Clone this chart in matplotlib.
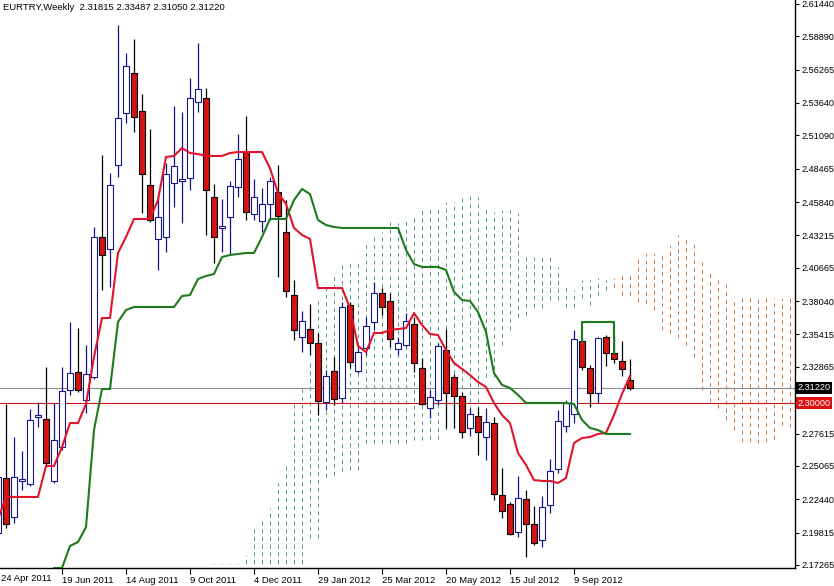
import numpy as np
import pandas as pd
import matplotlib
matplotlib.use('Agg')
import matplotlib.pyplot as plt
from matplotlib.transforms import blended_transform_factory

plt.rcParams['font.family'] = ['Liberation Sans', 'DejaVu Sans']

# weekly EURTRY candles, first bar = week of 24 Apr 2011
symbol = 'EURTRY,Weekly'
start_week = '2011-04-24'

opens = [2.1978, 2.2411, 2.2104, 2.2388, 2.2364, 2.2892, 2.2876, 2.2388, 2.2655, 2.3104,
         2.3246, 2.3025, 2.3207, 2.4309, 2.4214, 2.4876, 2.5285, 2.5600, 2.5301, 2.4718,
         2.4293, 2.4309, 2.4734, 2.4750, 2.4773, 2.5372, 2.5403, 2.4624, 2.4380, 2.4466,
         2.4703, 2.4986, 2.4490, 2.4435, 2.4569, 2.4663, 2.4348, 2.3852, 2.3521, 2.3584,
         2.3474, 2.3010, 2.3254, 2.3041, 2.3773, 2.3254, 2.3435, 2.3640, 2.3868, 2.3805,
         2.3427, 2.3459, 2.3624, 2.3277, 2.2962, 2.3025, 2.3419, 2.3207, 2.3057, 2.2805,
         2.2899, 2.2734, 2.2844, 2.2277, 2.2207, 2.1986, 2.2246, 2.2049, 2.1923, 2.2199,
         2.2482, 2.2821, 2.2915, 2.3490, 2.3277, 2.3081, 2.3521, 2.3395, 2.3332, 2.31815]
highs = [2.2450, 2.2994, 2.2734, 2.2624, 2.2955, 2.3010, 2.3285, 2.3002, 2.3285, 2.3640,
         2.3592, 2.3459, 2.4388, 2.4955, 2.4813, 2.5978, 2.5758, 2.5868, 2.5435, 2.5159,
         2.4624, 2.4892, 2.5340, 2.5293, 2.5561, 2.5836, 2.5482, 2.4726, 2.4608, 2.4750,
         2.5120, 2.5262, 2.4766, 2.4695, 2.4781, 2.4876, 2.4600, 2.3970, 2.3726, 2.3781,
         2.3553, 2.3262, 2.3364, 2.3797, 2.3797, 2.3459, 2.3679, 2.3955, 2.3907, 2.3868,
         2.3521, 2.3710, 2.3679, 2.3356, 2.3104, 2.3474, 2.3584, 2.3230, 2.3088, 2.2962,
         2.2970, 2.2962, 2.2892, 2.2490, 2.2222, 2.2427, 2.2317, 2.2191, 2.2270, 2.2561,
         2.2947, 2.3025, 2.3577, 2.3514, 2.3301, 2.3521, 2.3537, 2.3537, 2.3490, 2.33487]
lows = [2.1950, 2.2018, 2.2057, 2.2317, 2.2348, 2.2813, 2.2514, 2.2372, 2.2632, 2.3065,
        2.3088, 2.2923, 2.3191, 2.3892, 2.3915, 2.4781, 2.5207, 2.5136, 2.4498, 2.4427,
        2.4049, 2.4191, 2.4545, 2.4419, 2.4679, 2.5293, 2.4325, 2.4104, 2.4191, 2.4167,
        2.4624, 2.4443, 2.4443, 2.4348, 2.4443, 2.3994, 2.3836, 2.3498, 2.3403, 2.3380,
        2.2907, 2.2947, 2.2986, 2.3002, 2.3277, 2.3238, 2.3380, 2.3577, 2.3695, 2.3443,
        2.3380, 2.3443, 2.3246, 2.2986, 2.2884, 2.2986, 2.2805, 2.2805, 2.2726, 2.2742,
        2.2592, 2.2553, 2.2238, 2.2096, 2.1962, 2.1947, 2.1789, 2.1884, 2.1868, 2.2136,
        2.2451, 2.2773, 2.2844, 2.3262, 2.2970, 2.3002, 2.3293, 2.3317, 2.3214, 2.31050]
closes = [2.2419, 2.2049, 2.2419, 2.2403, 2.2868, 2.2907, 2.2529, 2.2710, 2.3096, 2.3238,
          2.3104, 2.3230, 2.4309, 2.4167, 2.4718, 2.5246, 2.5655, 2.5254, 2.4805, 2.4443,
          2.4466, 2.4805, 2.4868, 2.4766, 2.5403, 2.5474, 2.4679, 2.4309, 2.4396, 2.4710,
          2.4923, 2.4506, 2.4624, 2.4569, 2.4750, 2.4474, 2.3884, 2.3577, 2.3647, 2.3474,
          2.3018, 2.3214, 2.3033, 2.3758, 2.3325, 2.3403, 2.3608, 2.3868, 2.3758, 2.3506,
          2.3474, 2.3647, 2.3317, 2.2994, 2.3049, 2.3451, 2.3081, 2.3057, 2.2773, 2.2915,
          2.2773, 2.2852, 2.2285, 2.2151, 2.1970, 2.2254, 2.2049, 2.1899, 2.2183, 2.2466,
          2.2860, 2.3002, 2.3506, 2.3285, 2.3081, 2.3514, 2.3395, 2.3348, 2.3270, 2.31220]

# Ichimoku lines
tenkan = [2.2088, 2.2262, 2.2262, 2.2262, 2.2262, 2.2262, 2.2506, 2.2506, 2.2655, 2.2844,
          2.2844, 2.2994, 2.3364, 2.3671, 2.3671, 2.4183, 2.4309, 2.4451, 2.4451, 2.4451,
          2.4600, 2.4939, 2.4947, 2.5010, 2.4970, 2.4962, 2.4947, 2.4947, 2.4947, 2.4970,
          2.4978, 2.4978, 2.4978, 2.4978, 2.4850, 2.4655, 2.4570, 2.4380, 2.4325, 2.4293,
          2.3907, 2.3907, 2.3907, 2.3907, 2.3750, 2.3451, 2.3403, 2.3553, 2.3553, 2.3577,
          2.3584, 2.3592, 2.3710, 2.3616, 2.3545, 2.3537, 2.3419, 2.3317, 2.3270, 2.3222,
          2.3167, 2.3128, 2.3002, 2.2907, 2.2844, 2.2608, 2.2514, 2.2395, 2.2388, 2.2388,
          2.2372, 2.2411, 2.2687, 2.2726, 2.2734, 2.2758, 2.2766, 2.2907, 2.3073, 2.3214]

kijun_start = 6
kijun = [2.1500, 2.1703, 2.1703, 2.1876, 2.1907, 2.2025, 2.2789, 2.3112, 2.3112, 2.3640,
         2.3734, 2.3758, 2.3758, 2.3758, 2.3758, 2.3758, 2.3758, 2.3844, 2.3852, 2.3978,
         2.4002, 2.4018, 2.4151, 2.4167, 2.4175, 2.4183, 2.4183, 2.4309, 2.4451, 2.4451,
         2.4451, 2.4600, 2.4687, 2.4647, 2.4443, 2.4403, 2.4388, 2.4380, 2.4380, 2.4380,
         2.4380, 2.4380, 2.4380, 2.4380, 2.4380, 2.4207, 2.4096, 2.4073, 2.4073, 2.4073,
         2.4049, 2.3876, 2.3813, 2.3805, 2.3718, 2.3561, 2.3238, 2.3144, 2.3120, 2.3065,
         2.3002, 2.3002, 2.3002, 2.3002, 2.3002, 2.3002, 2.2994, 2.2868, 2.2805, 2.2789,
         2.2758, 2.2758, 2.2758, 2.2758]

# cloud, green part (bars 27..76) and orange part (bars 77..99)
cloud_up_start = 27
cloud_up_top = [2.1742, 2.1742, 2.1742, 2.1742, 2.1805, 2.2033, 2.2104, 2.2175, 2.2372, 2.2514,
                2.3025, 2.3112, 2.3340, 2.3836, 2.3955, 2.4025, 2.4104, 2.4096, 2.4096, 2.4262,
                2.4325, 2.4348, 2.4427, 2.4419, 2.4466, 2.4482, 2.4522, 2.4545, 2.4545, 2.4584,
                2.4584, 2.4640, 2.4655, 2.4624, 2.4537, 2.4506, 2.4522, 2.4522, 2.4498, 2.4183,
                2.4151, 2.4151, 2.4151, 2.4073, 2.3915, 2.3892, 2.3970, 2.3970, 2.3986, 2.3970]
cloud_up_bot = [2.1500, 2.1500, 2.1500, 2.1500, 2.1500, 2.1500, 2.1500, 2.1500, 2.1500, 2.1500,
                2.1500, 2.1500, 2.1939, 2.1939, 2.2419, 2.2435, 2.2466, 2.2474, 2.2474, 2.2687,
                2.2687, 2.2687, 2.2687, 2.2687, 2.2687, 2.2710, 2.2710, 2.2718, 2.2718, 2.2789,
                2.2805, 2.2931, 2.2947, 2.2947, 2.3207, 2.3207, 2.3459, 2.3577, 2.3679, 2.3695,
                2.3758, 2.3750, 2.3813, 2.3813, 2.3758, 2.3758, 2.3829, 2.3773, 2.3852, 2.3892]
cloud_dn_start = 77
cloud_dn_top = [2.3986, 2.4010, 2.4025, 2.4151, 2.4183, 2.4183, 2.4183, 2.4246, 2.4325, 2.4285,
                2.4262, 2.4112, 2.4033, 2.3970, 2.3955, 2.3836, 2.3836, 2.3829, 2.3829, 2.3829,
                2.3829, 2.3829, 2.3829]
cloud_dn_bot = [2.3915, 2.3852, 2.3852, 2.3797, 2.3789, 2.3734, 2.3577, 2.3553, 2.3514, 2.3459,
                2.3364, 2.3104, 2.3010, 2.2962, 2.2868, 2.2789, 2.2695, 2.2695, 2.2687, 2.2695,
                2.2718, 2.2829, 2.2813]

bracket_idx = [73, 73, 77, 77]
bracket_val = [2.3482, 2.3640, 2.3640, 2.3395]

price_ticks = [2.61440, 2.58890, 2.56265, 2.53640, 2.51090, 2.48465, 2.45840, 2.43215,
               2.40665, 2.38040, 2.35415, 2.32865, 2.27615, 2.25065, 2.22440, 2.19815, 2.17265]
last_price = 2.31220
level_price = 2.30000

navy = '#14148c'
bear = '#d41414'

fig = plt.figure(figsize=(8.34, 5.86), dpi=100)
ax = fig.add_axes([0, 18 / 586, 795 / 834, 568 / 586])

n = len(opens)
x = np.arange(n)
o, h, l, c = (np.array(v) for v in (opens, highs, lows, closes))
up = c >= o
dn = ~up

# cloud as dotted vertical lines
xu = np.arange(cloud_up_start, cloud_up_start + len(cloud_up_top))
ax.vlines(xu, cloud_up_bot, cloud_up_top, colors='#4a9a7e', linewidth=0.7,
          linestyles=(0, (4, 4)), zorder=1)
xd = np.arange(cloud_dn_start, cloud_dn_start + len(cloud_dn_top))
ax.vlines(xd, cloud_dn_bot, cloud_dn_top, colors='#d4763a', linewidth=0.7,
          linestyles=(0, (4, 4)), zorder=1)

ax.axhline(last_price, color='#8a8a8a', linewidth=0.8, zorder=2)
ax.axhline(level_price, color='#c81414', linewidth=0.8, zorder=2)

# candles
w = 0.68
ax.vlines(x[up], l[up], h[up], color=navy, linewidth=0.9, zorder=3)
ax.vlines(x[dn], l[dn], h[dn], color='black', linewidth=0.9, zorder=3)
ax.bar(x[up], np.maximum(c[up] - o[up], 0.0004), bottom=o[up], width=w,
       facecolor='white', edgecolor=navy, linewidth=0.8, zorder=4)
ax.bar(x[dn], o[dn] - c[dn], bottom=c[dn], width=w,
       facecolor=bear, edgecolor='black', linewidth=0.8, zorder=4)

# tenkan / kijun
ax.plot(x, tenkan, color='#e0142c', linewidth=1.5, zorder=5)
xk = np.arange(kijun_start, kijun_start + len(kijun))
ax.plot(xk, kijun, color='#1d7a1d', linewidth=1.5, zorder=5)
ax.plot(bracket_idx, bracket_val, color='#1d7a1d', linewidth=1.5, zorder=5)

ax.set_xlim(0.25, 99.625)
ax.set_ylim(2.17026, 2.6175)

for s in ('top', 'left'):
    ax.spines[s].set_visible(False)
for s in ('right', 'bottom'):
    ax.spines[s].set_color('black')
    ax.spines[s].set_linewidth(1.0)

# price axis on the right
ax.yaxis.tick_right()
ax.set_yticks(price_ticks)
ax.set_yticklabels([f'{v:.5f}' for v in price_ticks])
ax.tick_params(axis='y', direction='out', length=3, width=0.8, labelsize=6.6, pad=1.5)

# date axis
dates = pd.date_range(start_week, periods=n, freq='7D')
tick_idx = list(range(0, n, 8))
tick_lbl = [f'{d.day} {d:%b %Y}' for d in dates[tick_idx]]
ax.set_xticks(tick_idx[1:])
ax.set_xticklabels(tick_lbl[1:], ha='left')
ax.tick_params(axis='x', direction='out', length=4, width=0.8, labelsize=6.8, pad=1.5)
ax.text(0.001, -0.0105, tick_lbl[0], transform=ax.transAxes, ha='left',
        va='top', fontsize=6.8, clip_on=False)

# price tags for the horizontal lines
tr = blended_transform_factory(ax.transAxes, ax.transData)
ax.text(1.003, last_price, f'{last_price:.5f}', transform=tr, color='white', fontsize=6.6,
        va='center', ha='left', bbox=dict(facecolor='black', edgecolor='none', pad=1.2))
ax.text(1.003, level_price, f'{level_price:.5f}', transform=tr, color='white', fontsize=6.6,
        va='center', ha='left', bbox=dict(facecolor='#e01010', edgecolor='none', pad=1.2))

fig.text(3 / 834, 1 - 7 / 586, f'{symbol}  {opens[-1]:.5f} {highs[-1]:.5f} '
         f'{lows[-1]:.5f} {closes[-1]:.5f}', fontsize=6.8, va='center', ha='left')

fig.savefig('out.png', dpi=100)
